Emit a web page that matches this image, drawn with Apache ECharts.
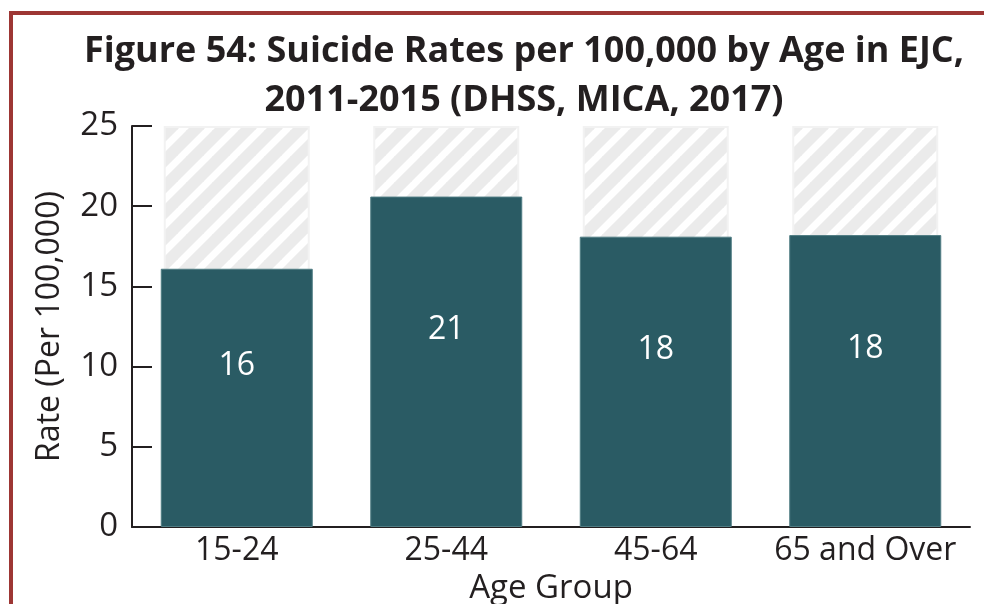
<!DOCTYPE html>
<html>
<head>
<meta charset="utf-8">
<style>
  html, body { margin: 0; padding: 0; background: #ffffff; }
  #chart { width: 984px; height: 604px; }
</style>
<script src="https://cdn.jsdelivr.net/npm/echarts@6/dist/echarts.min.js"></script>
</head>
<body>
<div id="chart"></div>
<script>
// Suicide rates per 100,000 by age group, EJC 2011-2015
const ageGroups = ['15-24', '25-44', '45-64', '65 and Over'];
const rates = [16.1, 20.6, 18.1, 18.2];
const scaleMax = 25;
const backdrop = ageGroups.map(() => scaleMax);

const INK = '#231f20';
const TEAL = '#2a5b64';
const AXIS_FONT = '"Open Sans", "Noto Sans", sans-serif';

// diagonal stripe tile for the backdrop columns
function stripeTile() {
  const s = 26;
  const c = document.createElement('canvas');
  c.width = s; c.height = s;
  const g = c.getContext('2d');
  g.fillStyle = '#ebebeb';
  g.fillRect(0, 0, s, s);
  g.strokeStyle = '#ffffff';
  g.lineWidth = 7;
  g.beginPath();
  [0, s, 2 * s].forEach(k => { g.moveTo(k - s - 2, s + 2); g.lineTo(k + 2, -2); });
  g.stroke();
  return c;
}

const chart = echarts.init(document.getElementById('chart'), null, { renderer: 'canvas' });

chart.setOption({
  animation: false,
  backgroundColor: '#ffffff',
  title: {
    text: 'Figure 54: Suicide Rates per 100,000 by Age in EJC,\n2011-2015 (DHSS, MICA, 2017)',
    left: 519,
    textAlign: 'center',
    top: 22,
    textStyle: {
      fontFamily: '"Open Sans", Lato, sans-serif',
      fontWeight: 'bold',
      fontSize: 36,
      lineHeight: 49,
      color: INK
    }
  },
  grid: { left: 132, right: 14, top: 126, bottom: 77, containLabel: false, outerBoundsMode: 'none' },
  xAxis: [
    {
      type: 'category',
      data: ageGroups,
      axisLine: { lineStyle: { color: INK, width: 2 } },
      axisTick: { inside: true, length: 8, lineStyle: { color: INK, width: 2 } },
      axisLabel: { color: INK, fontSize: 32, fontFamily: AXIS_FONT, margin: 8, interval: 0 },
      name: 'Age Group',
      nameLocation: 'middle',
      nameGap: 43,
      nameTextStyle: { color: INK, fontSize: 33, fontFamily: AXIS_FONT }
    },
    { type: 'category', data: ageGroups, show: false }
  ],
  yAxis: {
    type: 'value',
    min: 0,
    max: scaleMax,
    interval: 5,
    splitLine: { show: false },
    axisLine: { show: true, lineStyle: { color: INK, width: 2 } },
    axisTick: { show: true, inside: true, length: 20, lineStyle: { color: INK, width: 2 } },
    axisLabel: { color: INK, fontSize: 33, fontFamily: AXIS_FONT, margin: 14 },
    name: 'Rate (Per 100,000)',
    nameLocation: 'middle',
    nameGap: 66,
    nameTextStyle: { color: INK, fontSize: 32, fontFamily: AXIS_FONT }
  },
  series: [
    {
      type: 'bar',
      xAxisIndex: 1,
      data: backdrop,
      barWidth: 146,
      silent: true,
      z: 1,
      itemStyle: {
        color: { image: stripeTile(), repeat: 'repeat' },
        borderColor: '#f2f2f2',
        borderWidth: 2
      }
    },
    {
      type: 'bar',
      xAxisIndex: 0,
      data: rates,
      barWidth: 152,
      z: 3,
      itemStyle: { color: TEAL, borderColor: '#4f7c83', borderWidth: 1 },
      label: {
        show: true,
        position: 'inside',
        offset: [0, -32],
        color: '#ffffff',
        fontSize: 32,
        fontFamily: AXIS_FONT,
        formatter: p => Math.round(p.value)
      }
    }
  ],
  graphic: [
    { type: 'line', shape: { x1: 10, y1: 13, x2: 984, y2: 13 }, style: { stroke: '#9d3634', lineWidth: 4 }, z: 10 },
    { type: 'line', shape: { x1: 11, y1: 11, x2: 11, y2: 604 }, style: { stroke: '#9d3634', lineWidth: 4 }, z: 10 }
  ]
});
</script>
</body>
</html>
